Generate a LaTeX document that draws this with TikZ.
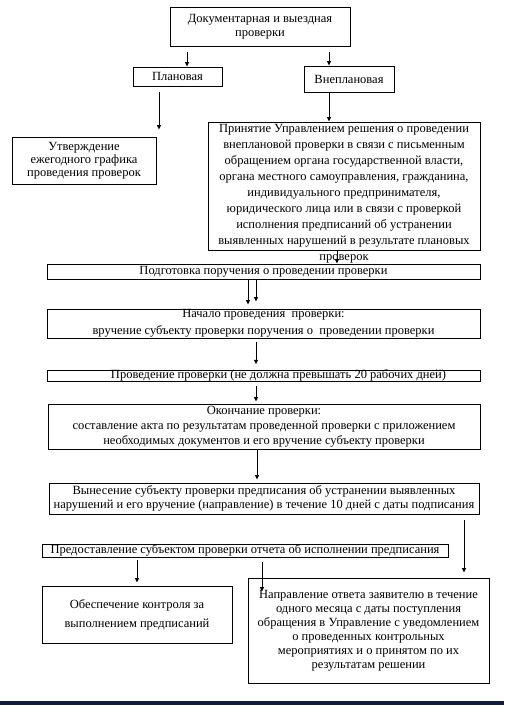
\documentclass[tikz,border=0pt]{standalone}
\usepackage{fontspec}
\setmainfont{Liberation Serif}
\usetikzlibrary{arrows.meta}
\definecolor{barnavy}{HTML}{141C3C}

\tikzset{
  box/.style={draw, rectangle, inner sep=0pt, align=center, line width=0.9pt},
  arr/.style={-{Triangle[length=4.5pt,width=4pt]}, line width=0.9pt},
  lead/.style={font=\fontsize{12.5}{#1}\selectfont},
}

\begin{document}
\begin{tikzpicture}[x=1pt, y=-1pt, font=\fontsize{12.5}{15}\selectfont]
    \useasboundingbox (0,0) rectangle (504,705);
    \fill[barnavy] (0,701) rectangle (504,705);

    \node (doc) [box, lead=14, minimum width=180, minimum height=39] at (260,26.5) {Документарная и выездная\\проверки};
    \node (plan) [box, minimum width=89, minimum height=19] at (177.5,76.5) {Плановая};
    \node (vnepl) [box, minimum width=90, minimum height=26] at (349,79) {Внеплановая};
    \node (utv) [box, lead=13, minimum width=144, minimum height=47] at (84,160.5) {Утверждение\\ежегодного графика\\проведения проверок};

    \node (prin) [box, minimum width=272, minimum height=128] at (344,186) {};
    \node (printxt) [lead=16, align=center, inner sep=0pt] at (344,193.5) {Принятие Управлением решения о проведении\\внеплановой проверки в связи с письменным\\обращением органа государственной власти,\\органа местного самоуправления, гражданина,\\индивидуального предпринимателя,\\юридического лица или в связи с проверкой\\исполнения предписаний об устранении\\выявленных нарушений в результате плановых\\проверок};

    \node (podg) [box, minimum width=433, minimum height=15] at (263.5,271.5) {Подготовка поручения о проведении проверки};
    \node (nach) [box, lead=17, minimum width=433, minimum height=29] at (263.5,323.5) {Начало проведения\ \ проверки:\\вручение субъекту проверки поручения о\ \ проведении проверки};
    \node (prov) [box, text height=7pt, text depth=2pt, minimum width=433, minimum height=10.5] at (263.5,376) {\hspace*{30pt}Проведение проверки (не должна превышать 20 рабочих дней)};
    \node (okon) [box, lead=15, minimum width=432, minimum height=45] at (264,426.5) {Окончание проверки:\\составление акта по результатам проведенной проверки с приложением\\необходимых документов и его вручение субъекту проверки};
    \node (vyn) [box, lead=14, minimum width=430, minimum height=31] at (264,498.5) {Вынесение субъекту проверки предписания об устранении выявленных\\нарушений и его вручение (направление) в течение 10 дней с даты подписания};
    \node (pred) [box, text height=7pt, text depth=2pt, minimum width=406, minimum height=13] at (245,550.5) {Предоставление субъектом проверки отчета об исполнении предписания};
    \node (obesp) [box, lead=19, minimum width=190, minimum height=57] at (137,614.5) {Обеспечение контроля за\\выполнением предписаний};
    \node (napr) [box, lead=14, minimum width=241, minimum height=105] at (368.5,630.5) {Направление ответа заявителю в течение\\одного месяца с даты поступления\\обращения в Управление с уведомлением\\о проведенных контрольных\\мероприятиях и о принятом по их\\результатам решении};

    % connectors
    \draw[arr, shorten <=6pt] (doc.south -| 187,0) -- (plan.north -| 187,0);
    \draw[arr, shorten <=6pt] (doc.south -| 329,0) -- (vnepl.north -| 329,0);
    \draw[arr, shorten <=6pt, shorten >=7pt] (plan.south -| 159,0) -- (utv.north -| 159,0);
    \draw[arr] (vnepl.south -| 329,0) -- (prin.north -| 329,0);
    \draw[arr] (prin.south -| 337,0) -- (podg.north -| 337,0);
    \draw[arr, shorten >=4pt] (podg.south -| 248,0) -- (nach.north -| 248,0);
    \draw[arr, shorten >=7pt] (podg.south -| 256,0) -- (nach.north -| 256,0);
    \draw[arr, shorten <=4pt, shorten >=6pt] (nach.south -| 256,0) -- (prov.north -| 256,0);
    \draw[arr, shorten <=4pt, shorten >=2pt] (prov.south -| 256,0) -- (okon.north -| 256,0);
    \draw[arr, shorten >=3pt] (okon.south -| 257,0) -- (vyn.north -| 257,0);
    \draw[arr, shorten <=6pt, shorten >=5pt] (vyn.south -| 464,0) -- (napr.north -| 464,0);
    \draw[arr, shorten <=3pt, shorten >=3pt] (pred.south -| 137,0) -- (obesp.north -| 137,0);
    \draw[arr, shorten <=5pt, shorten >=-14pt] (pred.south -| 262,0) -- (napr.north -| 262,0);
\end{tikzpicture}
\end{document}
